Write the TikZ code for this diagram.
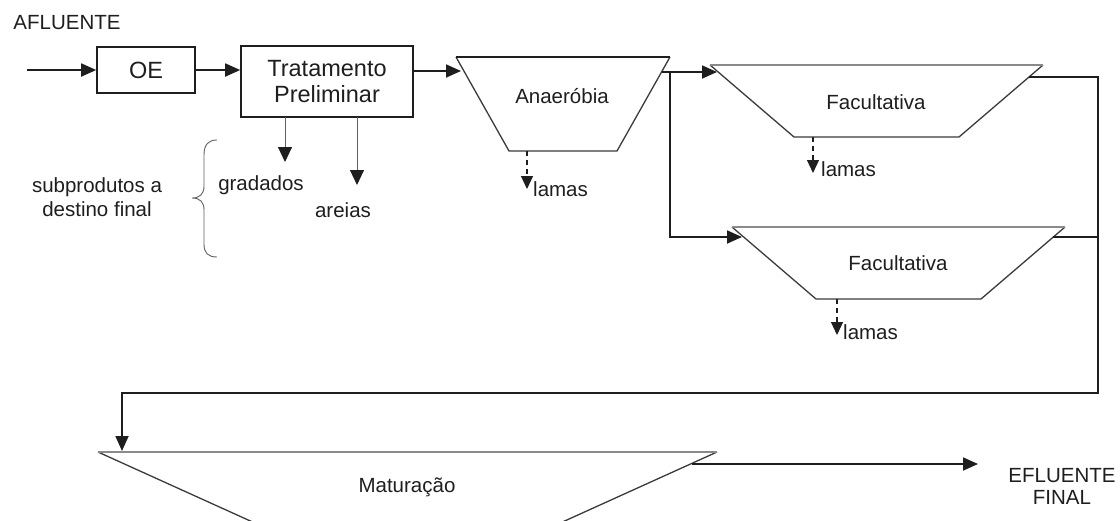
\documentclass[tikz,border=0pt]{standalone}
\usepackage{fontspec}
\setmainfont{Liberation Sans}
\usetikzlibrary{arrows.meta}
\definecolor{ink}{HTML}{1E1E1E}
\definecolor{edge}{HTML}{3A3A3A}
\definecolor{rim}{HTML}{8A8A8A}
\begin{document}
\begin{tikzpicture}[x=1pt,y=-1pt,
  lbl/.style={font=\fontsize{20.5}{22}\selectfont, text=ink, inner sep=0pt},
  boxlbl/.style={font=\fontsize{23.5}{28}\selectfont, text=ink, align=center},
  procbox/.style={draw=ink, line width=1.6pt, rectangle, inner sep=0pt, boxlbl},
  pond/.style={draw=edge, line width=1.3pt, line join=miter},
  pondtop/.style={draw=rim, line width=1.5pt},
  flow/.style={draw=ink, line width=1.8pt, -{Triangle[length=15pt,width=13pt]}},
  plain/.style={draw=ink, line width=1.8pt},
  side/.style={draw=edge!80, line width=0.9pt, -{Triangle[length=15pt,width=14pt,color=ink,fill=ink]}},
  sludge/.style={draw=ink, line width=1.2pt, dash pattern=on 5pt off 4pt,
    -{Triangle[length=13pt,width=12pt]}}]
\useasboundingbox (0,0) rectangle (1120,520);

% ---- inlet, screening and preliminary treatment
\node[lbl, anchor=center] (afl) at (67,23) {AFLUENTE};
\coordinate (in) at (27,70);
\node[procbox, minimum width=98pt, minimum height=46pt] (oe) at (146,70) {OE};
\node[procbox, minimum width=172pt, minimum height=71pt] (tp) at (327,81.5) {Tratamento\\[-2pt]Preliminar};
\draw[flow] (in) -- (oe.west);
\draw[flow] (oe.east) -- (oe.east -| tp.west);

% by-products of preliminary treatment
\coordinate (g0) at (285,117);
\coordinate (g1) at (285,162);
\coordinate (a0) at (357,117);
\coordinate (a1) at (357,185);
\draw[side] (g0) -- (g1);
\draw[side] (a0) -- (a1);
\node[lbl] (grad) at (261,185) {gradados};
\node[lbl] (are) at (343,210) {areias};
\node[lbl, align=center, font=\fontsize{20.5}{24}\selectfont] (sub) at (97,197) {subprodutos a\\destino final};
\draw[draw=edge!80, line width=0.9pt] (217,140) .. controls (208,140) and (204,145) .. (204,155)
  -- (204,186) .. controls (204,194) and (200,198) .. (192,198)
  .. controls (200,198) and (204,202) .. (204,210)
  -- (204,244) .. controls (204,253) and (208,257) .. (217,257);

% ---- anaerobic pond
\coordinate (an-tl) at (456,57);
\coordinate (an-tr) at (670,57);
\coordinate (an-br) at (617,151);
\coordinate (an-bl) at (509,151);
\draw[pond] (an-tr) -- (an-br) -- (an-bl) -- (an-tl);
\draw[pondtop, draw=ink] (an-tl) -- (an-tr);
\node[lbl] (an) at (562,96) {Anaeróbia};
\coordinate (an-in) at (461,71);
\draw[flow] (tp.east |- an-in) -- (an-in);
\coordinate (an-s0) at (527,151);
\coordinate (an-s1) at (527,189);
\draw[sludge] (an-s0) -- (an-s1);
\node[lbl, anchor=base west] (an-l) at (533,196) {lamas};

% ---- facultative ponds in parallel
\coordinate (f1-tl) at (710,65);
\coordinate (f1-tr) at (1043,65);
\coordinate (f1-br) at (959,137);
\coordinate (f1-bl) at (794,137);
\draw[pond] (f1-tl) -- (f1-bl) -- (f1-br) -- (f1-tr);
\draw[pondtop] (f1-tl) -- (f1-tr);
\node[lbl] (f1) at (876,102) {Facultativa};

\coordinate (f2-tl) at (732,227);
\coordinate (f2-tr) at (1065,227);
\coordinate (f2-br) at (981,299);
\coordinate (f2-bl) at (816,299);
\draw[pond] (f2-tl) -- (f2-bl) -- (f2-br) -- (f2-tr);
\draw[pondtop] (f2-tl) -- (f2-tr);
\node[lbl] (f2) at (898,263) {Facultativa};

\coordinate (an-out) at (662,72);
\coordinate (split) at (670,72);
\coordinate (f1-in) at (717,72);
\coordinate (split2) at (670,237);
\coordinate (f2-in) at (742,237);
\draw[plain] (an-out) -- (split);
\draw[flow] (split) -- (f1-in);
\draw[flow, rounded corners=0pt] (split) -- (split2) -- (f2-in);

\coordinate (f1-s0) at (813,137);
\coordinate (f1-s1) at (813,173);
\draw[sludge] (f1-s0) -- (f1-s1);
\node[lbl, anchor=base west] (f1-l) at (821,176) {lamas};
\coordinate (f2-s0) at (837,299);
\coordinate (f2-s1) at (837,335);
\draw[sludge] (f2-s0) -- (f2-s1);
\node[lbl, anchor=base west] (f2-l) at (843,339) {lamas};

% ---- collection and maturation pond
\coordinate (f1-out) at (1029,77);
\coordinate (f2-out) at (1053,237);
\coordinate (col-t) at (1098,77);
\coordinate (col-j) at (1098,237);
\coordinate (col-b) at (1098,393);
\coordinate (ret) at (122,393);
\coordinate (mt-in) at (122,451);
\draw[plain] (f2-out) -- (col-j);
\draw[flow, line join=miter] (f1-out) -- (col-t) -- (col-b) -- (ret) -- (mt-in);

\coordinate (mt-tl) at (98,452);
\coordinate (mt-tr) at (717,452);
\coordinate (mt-bl) at (257,524);
\coordinate (mt-br) at (558,524);
\draw[pond] (mt-bl) -- (mt-tl);
\draw[pond] (mt-tr) -- (mt-br);
\draw[pondtop] (mt-tl) -- (mt-tr);
\node[lbl] (mt) at (407,487) {Maturação};

\coordinate (mt-out) at (692,464);
\coordinate (eff) at (978,464);
\draw[flow] (mt-out) -- (eff);
\node[lbl, align=center, font=\fontsize{20.5}{22}\selectfont] (efl) at (1062,486) {EFLUENTE\\FINAL};
\end{tikzpicture}
\end{document}
